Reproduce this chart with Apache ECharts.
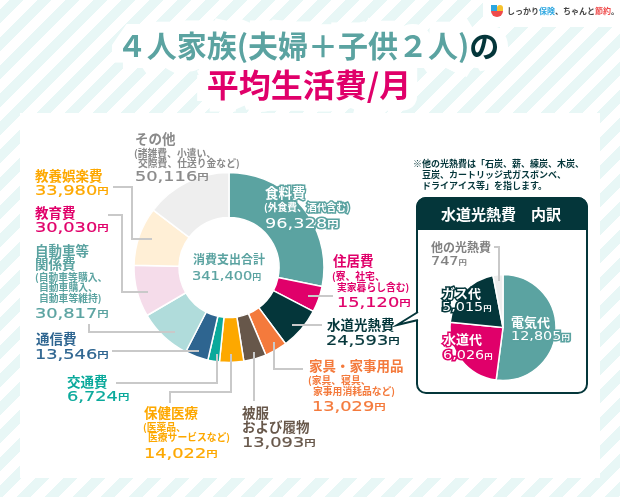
<!DOCTYPE html>
<html lang="ja">
<head>
<meta charset="utf-8">
<title>4人家族の平均生活費</title>
<script src="https://cdn.jsdelivr.net/npm/echarts@6/dist/echarts.min.js"></script>
<style>
  html, body { margin: 0; padding: 0; width: 620px; height: 497px; overflow: hidden; }
  body { background: repeating-linear-gradient(135deg, #ffffff 0, #ffffff 7px, #e8f7f6 7px, #e8f7f6 16.3px, #ffffff 16.3px, #ffffff 19.8px); }
  #chart { width: 620px; height: 497px; }
</style>
</head>
<body>
<div id="chart"></div>
<script>
// 消費支出の内訳(円/月)
const categories = ['食料費', '住居費', '水道光熱費', '家具・家事用品', '被服及び履物', '保健医療', '交通費', '通信費', '自動車等関係費', '教育費', '教養娯楽費', 'その他'];
const expenses = [96328, 15120, 24593, 13029, 13093, 14022, 6724, 13546, 30817, 30030, 33980, 50116];
const expenseColors = ['#5ba3a1', '#e0006a', '#04363a', '#f47a3c', '#67574a', '#fda800', '#0aa99b', '#2e6590', '#b0dcdb', '#f5dcea', '#ffefd6', '#eeeeee'];

// 水道光熱費の内訳(円/月)
const utilityCategories = ['電気代', '水道代', 'ガス代', '他の光熱費'];
const utilityValues = [12805, 6026, 5015, 747];
const utilityColors = ['#5ba3a1', '#e0006a', '#04363a', '#eeeeee'];

const totalExpense = 341400;

const JP = '"Noto Sans CJK JP", "Noto Sans", sans-serif';
const NUM = '"DejaVu Sans", sans-serif';
const GREY_LINE = '#c9c9c9';
const DARK = '#04363a';
const TEAL = '#5ba3a1';

const graphics = [];

function text(x, y, str, color, size, opts) {
  const o = opts || {};
  graphics.push({
    type: 'text', x: x, y: y, z: o.z || 20, silent: true, scaleX: o.scaleX || 1,
    style: {
      text: str, fill: color, font: 'bold ' + size + 'px ' + JP,
      verticalAlign: 'middle', align: o.align || 'left',
      stroke: o.halo, lineWidth: o.halo ? (o.haloWidth || 3) : 0, lineJoin: 'round'
    }
  });
}

// 金額ラベル: 横長の数字に小さな「円」を添える
function amount(x, y, value, color, opts) {
  const o = opts || {};
  const numSize = o.size || 14;
  const stroke = o.halo || color;
  const width = o.halo ? 3 : 0.2;
  graphics.push({
    type: 'text', x: x, y: y, z: 20, silent: true, scaleX: o.scaleX || 1.27,
    style: {
      text: '{n|' + value.toLocaleString('en-US') + '}{u|円}',
      verticalAlign: 'middle', fill: color,
      rich: {
        n: { font: numSize + 'px ' + NUM, fill: color, stroke: stroke, lineWidth: width },
        u: { font: 'bold ' + (numSize - 5) + 'px ' + JP, fill: color, stroke: o.halo, lineWidth: o.halo ? 3 : 0 }
      }
    }
  });
}

function leader(points) {
  graphics.push({
    type: 'polyline', z: 15, silent: true,
    shape: { points: points },
    style: { stroke: GREY_LINE, lineWidth: 2, fill: null }
  });
}

// 下地のパネルとロゴ台
graphics.push({ type: 'rect', z: 1, silent: true, shape: { x: 20, y: 113, width: 580, height: 365 }, style: { fill: '#ffffff' } });
graphics.push({ type: 'rect', z: 1, silent: true, shape: { x: 483, y: 0, width: 137, height: 27 }, style: { fill: '#ffffff' } });

// ロゴ
graphics.push({ type: 'rect', z: 5, silent: true, shape: { x: 491, y: 5, width: 6, height: 6 }, style: { fill: '#2ba6e0' } });
graphics.push({ type: 'rect', z: 5, silent: true, shape: { x: 497, y: 5, width: 6, height: 6, r: [3, 3, 0, 0] }, style: { fill: '#f6c22d' } });
graphics.push({ type: 'sector', z: 5, silent: true, shape: { cx: 497, cy: 11, r: 6, r0: 0, startAngle: 0, endAngle: Math.PI }, style: { fill: '#ef4b4b' } });
graphics.push({
  type: 'text', x: 507, y: 11, z: 5, silent: true,
  style: {
    text: 'しっかり{b|保険}、ちゃんと{r|節約}。', verticalAlign: 'middle', fill: '#444444',
    font: 'bold 8px ' + JP,
    rich: {
      b: { font: 'bold 8px ' + JP, fill: '#2ba6e0' },
      r: { font: 'bold 8px ' + JP, fill: '#ef4b4b' }
    }
  }
});

// 見出し: 太い白フチの上に文字を重ねる
function titleLine(x, y, plain, size, color, tail, scaleX) {
  [{ outline: true, z: 3 }, { outline: false, z: 20 }].forEach(layer => {
    const tailColor = layer.outline ? '#ffffff' : DARK;
    const fill = layer.outline ? '#ffffff' : color;
    const line = layer.outline ? 22 : 0;
    graphics.push({
      type: 'text', x: x, y: y, z: layer.z, silent: true, scaleX: scaleX,
      style: {
        text: '{a|' + plain + '}' + (tail ? '{b|' + tail + '}' : ''),
        align: 'center', verticalAlign: 'middle',
        rich: {
          a: { font: 'bold ' + size + 'px ' + JP, fill: fill, stroke: layer.outline ? '#ffffff' : undefined, lineWidth: line },
          b: { font: 'bold ' + size + 'px ' + JP, fill: tailColor, stroke: layer.outline ? '#ffffff' : undefined, lineWidth: line }
        }
      }
    });
  });
}
titleLine(308, 46, '４人家族(夫婦＋子供２人)', 30, TEAL, 'の', 1.0);
titleLine(309, 85, '平均生活費/月', 32, '#e0006a', '', 1.0);

// 中央の合計
text(229, 259, '消費支出合計', TEAL, 12, { align: 'center' });
amount(192, 277, totalExpense, TEAL, { size: 13, scaleX: 1.12 });

// 主円グラフのラベル
const [food, housing, utility, furniture, clothes, medical, transport, telecom, car, education, leisure, other] = expenses;
const HALO = { halo: TEAL };
const LABEL = 13.5;
const NOTE = 9.8;
text(265, 193, '食料費', '#ffffff', LABEL, HALO);
text(264, 207, '(外食費、酒代含む)', '#ffffff', NOTE, HALO);
amount(265, 224, food, '#ffffff', HALO);

text(333, 261, '住居費', '#e0006a', LABEL);
text(332, 276, '(寮、社宅、', '#e0006a', NOTE);
text(337, 287, '実家暮らし含む)', '#e0006a', NOTE);
amount(337, 303, housing, '#e0006a');

text(327, 325, '水道光熱費', DARK, LABEL);
amount(326, 341, utility, DARK);

text(309, 366, '家具・家事用品', '#f47a3c', LABEL);
text(308, 380, '(家具、寝具、', '#f47a3c', NOTE);
text(313, 391, '家事用消耗品など)', '#f47a3c', NOTE);
amount(312, 407, furniture, '#f47a3c');

text(242, 413, '被服', '#67574a', LABEL);
text(242, 427, 'および履物', '#67574a', LABEL);
amount(242, 443, clothes, '#67574a');

text(144, 413, '保健医療', '#fda800', LABEL);
text(143, 427, '(医薬品、', '#fda800', NOTE);
text(148, 437, '医療サービスなど)', '#fda800', NOTE);
amount(144, 454, medical, '#fda800');

text(67, 382, '交通費', '#0aa99b', LABEL);
amount(67, 397, transport, '#0aa99b');

text(36, 339, '通信費', '#2e6590', LABEL);
amount(35, 355, telecom, '#2e6590');

text(35, 251, '自動車等', TEAL, LABEL);
text(35, 264, '関係費', TEAL, LABEL);
text(35, 277, '(自動車等購入、', TEAL, NOTE);
text(39, 287, '自動車購入、', TEAL, NOTE);
text(39, 298, '自動車等維持)', TEAL, NOTE);
amount(35, 314, car, TEAL);

text(35, 213, '教育費', '#e0006a', LABEL);
amount(35, 228, education, '#e0006a');

text(35, 176, '教養娯楽費', '#fda800', LABEL);
amount(35, 191, leisure, '#fda800');

text(135, 139, 'その他', '#8a8a8a', LABEL);
text(134, 153, '(諸雑費、小遣い、', '#8a8a8a', NOTE);
text(138, 163, '交際費、仕送り金など)', '#8a8a8a', NOTE);
amount(135, 177, other, '#8a8a8a');

// 引き出し線
leader([[113, 187], [132, 187], [132, 239], [152, 239]]);
leader([[108, 215], [122, 215], [122, 292], [148, 292]]);
leader([[89, 324], [89, 332], [175, 332]]);
leader([[112, 351], [199, 351]]);
leader([[116, 383], [217, 383], [217, 354]]);
leader([[170, 403], [170, 392], [231, 392], [231, 354]]);
leader([[254, 401], [254, 352]]);
leader([[274, 342], [274, 369], [303, 369]]);
leader([[292, 325], [322, 325]]);
leader([[308, 296], [333, 296]]);

// 内訳ボックス
graphics.push({ type: 'rect', z: 3, silent: true, shape: { x: 417, y: 198, width: 170, height: 195, r: 9 }, style: { fill: '#ffffff', stroke: DARK, lineWidth: 2 } });
graphics.push({ type: 'rect', z: 3, silent: true, shape: { x: 417, y: 198, width: 170, height: 31, r: [9, 9, 0, 0] }, style: { fill: DARK, stroke: DARK, lineWidth: 2 } });
graphics.push({ type: 'polyline', z: 4, silent: true, shape: { points: [[418, 312], [397, 325], [418, 320]] }, style: { fill: '#ffffff', stroke: DARK, lineWidth: 2 } });
text(501, 214, '水道光熱費　内訳', '#ffffff', 15, { align: 'center' });

text(413, 164, '※他の光熱費は「石炭、薪、練炭、木炭、', DARK, 9);
text(422, 175, '豆炭、カートリッジ式ガスボンベ、', DARK, 9);
text(422, 186, 'ドライアイス等」を指します。', DARK, 9);

// 内訳円グラフのラベル
const [electricity, water, gas, otherUtility] = utilityValues;
text(431, 247, '他の光熱費', '#808080', 12);
amount(431, 262, otherUtility, '#808080', { size: 12, scaleX: 1.2 });
leader([[494, 247], [499, 247], [499, 281]]);

text(442, 293, 'ガス代', '#ffffff', 13, { halo: DARK });
amount(442, 308, gas, '#ffffff', { size: 12, scaleX: 1.2, halo: DARK });
text(443, 339, '水道代', '#ffffff', 13, { halo: '#e0006a' });
amount(443, 356, water, '#ffffff', { size: 12, scaleX: 1.2, halo: '#e0006a' });
text(511, 322, '電気代', '#ffffff', 13, { halo: TEAL });
amount(511, 337, electricity, '#ffffff', { size: 12, scaleX: 1.2, halo: TEAL });

function pieSeries(names, values, colors, center, radius) {
  return {
    type: 'pie', center: center, radius: radius, startAngle: 90, clockwise: true,
    silent: true, animation: false, z: 10,
    label: { show: false }, labelLine: { show: false },
    itemStyle: { borderColor: '#ffffff', borderWidth: 1.5 },
    emphasis: { disabled: true },
    data: values.map((v, i) => ({ name: names[i], value: v, itemStyle: { color: colors[i] } }))
  };
}

const chart = echarts.init(document.getElementById('chart'), null, { renderer: 'canvas' });
chart.setOption({
  backgroundColor: 'transparent',
  animation: false,
  tooltip: { show: false },
  series: [
    pieSeries(categories, expenses, expenseColors, [229, 267.5], [50, 95]),
    pieSeries(utilityCategories, utilityValues, utilityColors, [503, 327.5], [0, 53])
  ],
  graphic: { elements: graphics }
});
</script>
</body>
</html>
